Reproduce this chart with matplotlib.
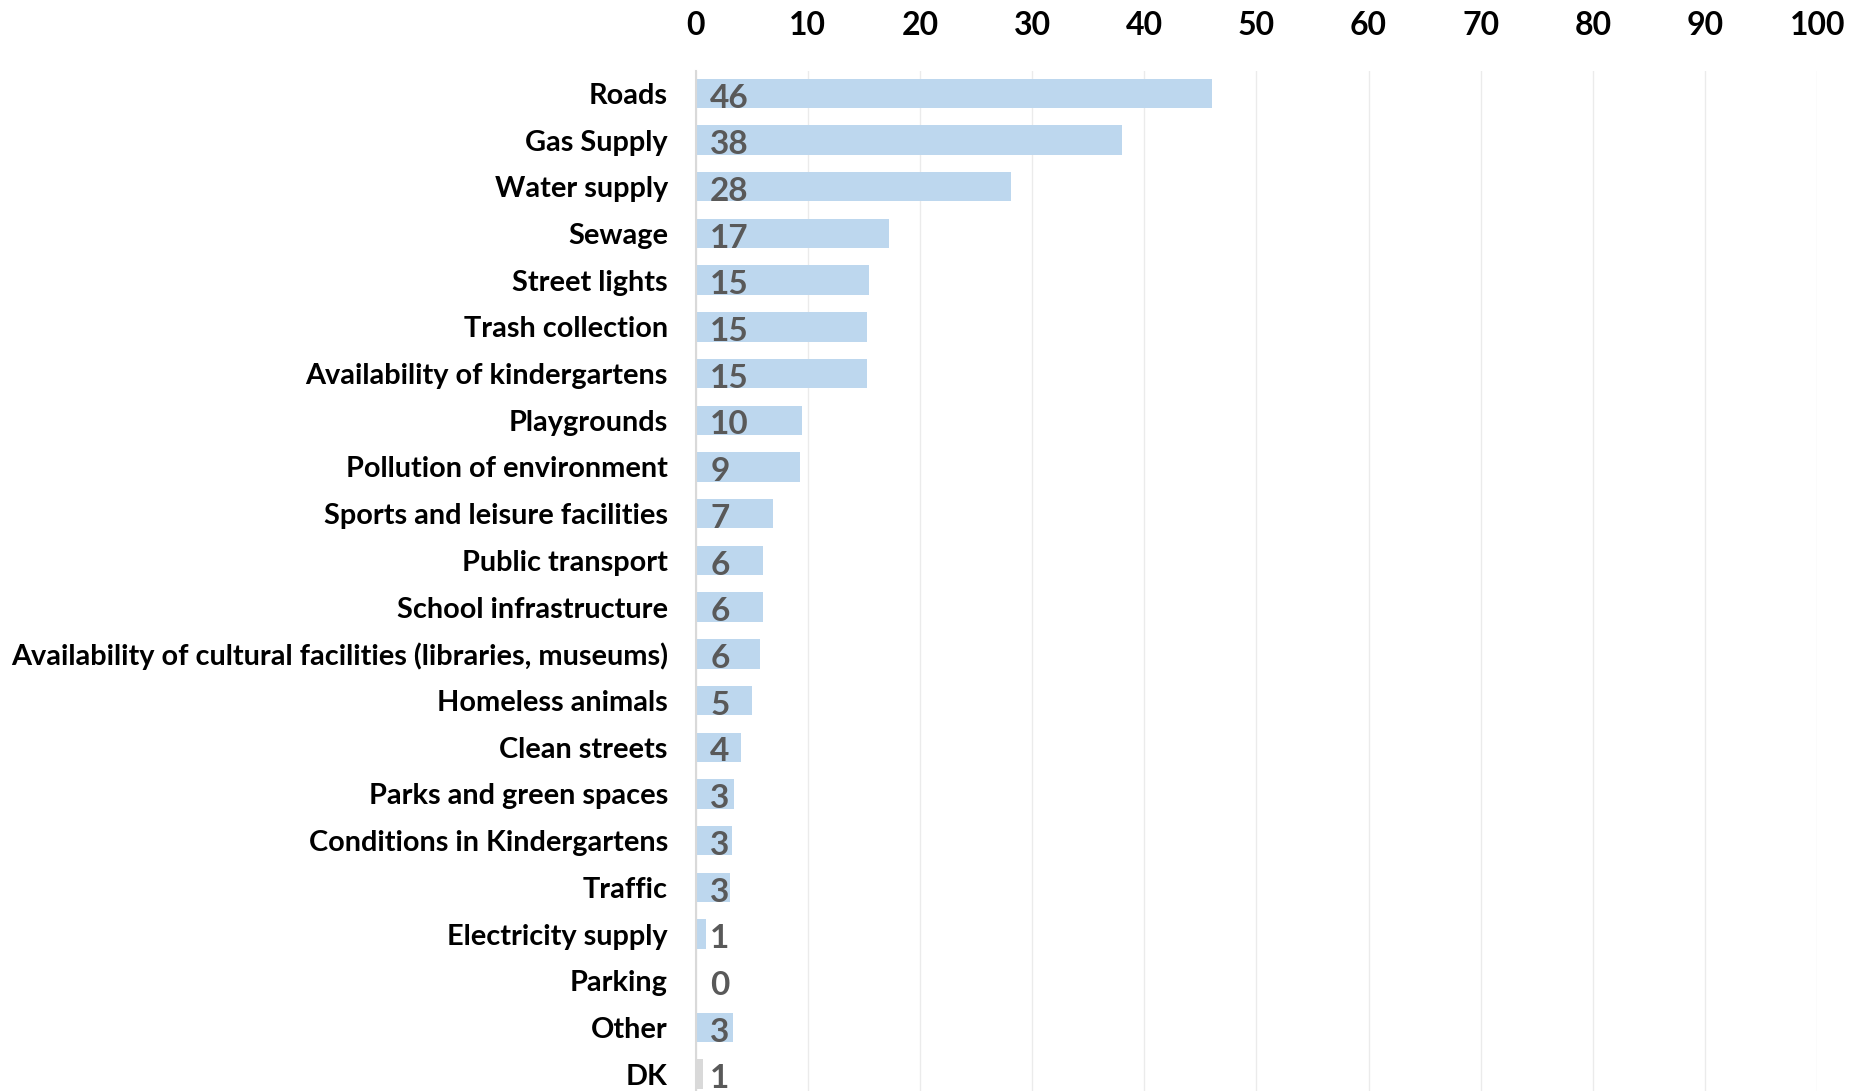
import matplotlib.pyplot as plt

plt.rcParams['font.family'] = ['Lato', 'DejaVu Sans']

categories = ['Roads', 'Gas Supply', 'Water supply', 'Sewage', 'Street lights',
              'Trash collection', 'Availability of kindergartens', 'Playgrounds',
              'Pollution of environment', 'Sports and leisure facilities',
              'Public transport', 'School infrastructure',
              'Availability of cultural facilities (libraries, museums)',
              'Homeless animals', 'Clean streets', 'Parks and green spaces',
              'Conditions in Kindergartens', 'Traffic', 'Electricity supply',
              'Parking', 'Other', 'DK']
values = [46.0, 38.0, 28.1, 17.2, 15.45, 15.3, 15.3, 9.5, 9.3, 6.9, 6.0, 6.0,
          5.7, 5.0, 4.0, 3.4, 3.2, 3.1, 0.95, 0.0, 3.3, 0.7]
labels = ['46', '38', '28', '17', '15', '15', '15', '10', '9', '7', '6', '6',
          '6', '5', '4', '3', '3', '3', '1', '0', '3', '1']
xticks = [0, 10, 20, 30, 40, 50, 60, 70, 80, 90, 100]

blue = '#BDD7EE'
grey = '#D9D9D9'
colors = [blue] * (len(categories) - 1) + [grey]

fig = plt.figure(figsize=(18.6, 10.91), dpi=100)
ax = fig.add_axes([0.374, 0.0, 0.603, 0.935])

pos = list(range(len(categories)))
ax.barh(pos, values, height=0.63, color=colors, zorder=2)

# value labels sit just inside the left end of each bar
for p, lab in zip(pos, labels):
    ax.text(1.3, p + 0.1, lab, ha='left', va='center', fontsize=24,
            fontweight='bold', color='#595959', zorder=3)

ax.set_xlim(0, 100)
ax.set_ylim(21.36, -0.48)
ax.set_yticks(pos)
ax.set_yticklabels(categories, fontsize=20.8, fontweight='bold')
ax.set_xticks(xticks)
ax.set_xticklabels([str(t) for t in xticks], fontsize=23, fontweight='bold')
ax.xaxis.tick_top()
ax.tick_params(axis='x', length=0, pad=22)
ax.tick_params(axis='y', length=0, pad=20)

ax.grid(axis='x', color='#EBEBEB', linewidth=1, zorder=0)
for s in ['top', 'right', 'bottom']:
    ax.spines[s].set_visible(False)
ax.spines['left'].set_color('#D9D9D9')
ax.spines['left'].set_linewidth(1.5)
ax.spines['left'].set_zorder(4)

fig.savefig('out.png', dpi=100)
